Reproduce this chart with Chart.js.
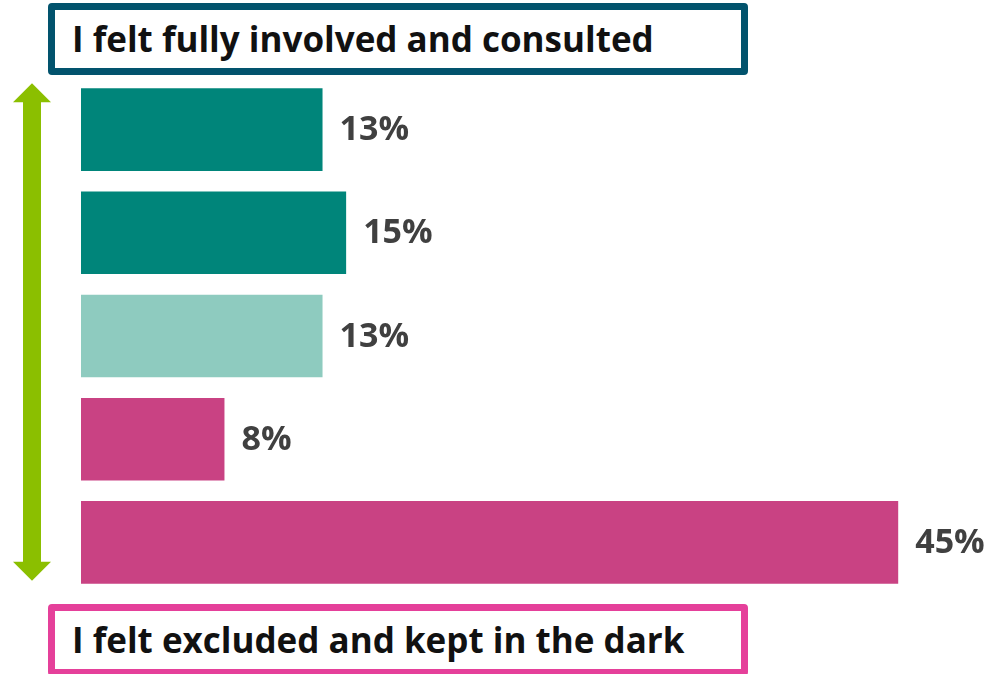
<!DOCTYPE html>
<html>
<head>
<meta charset="utf-8">
<script src="https://cdn.jsdelivr.net/npm/chart.js@4/dist/chart.umd.min.js"></script>
<style>
  html, body { margin: 0; padding: 0; background: #fff; overflow: hidden; }
  #wrap { position: relative; width: 989px; height: 674px; }
  .box {
    position: absolute; left: 48px; width: 669px; height: 58px;
    border: 7px solid; border-radius: 4px; background: #fff;
    font-family: "Open Sans", sans-serif; font-weight: 700; font-size: 35px;
    color: #111; line-height: 58px; padding-left: 17px; white-space: nowrap;
  }
  #top { top: 3px; border-color: #02536d; }
  #bottom { top: 604px; border-color: #e5409a; }
</style>
</head>
<body>
<div id="wrap">
  <canvas id="chart" width="989" height="674"></canvas>
  <div class="box" id="top">I felt fully involved and consulted</div>
  <div class="box" id="bottom">I felt excluded and kept in the dark</div>
</div>
<script>
const categories = ['Fully involved', 'Involved', 'Neutral', 'Excluded', 'Fully excluded']
const values = [13.3, 14.6, 13.3, 7.9, 45]
const valueLabels = ['13%', '15%', '13%', '8%', '45%']
const barColors = ['#00857a', '#00857a', '#8ecbbf', '#c94283', '#c94283']

// value text after each bar
const valueLabelPlugin = {
    id: 'valueLabels',
    afterDatasetsDraw(chart) {
        const ctx = chart.ctx
        const meta = chart.getDatasetMeta(0)
        ctx.save()
        ctx.font = '700 34px "Open Sans", sans-serif'
        ctx.fillStyle = '#404040'
        ctx.textBaseline = 'middle'
        meta.data.forEach((bar, i) => {
            ctx.fillText(valueLabels[i], bar.x + 17, bar.y + 1)
        })
        ctx.restore()
    }
}

// green double arrow along the left side
const arrowPlugin = {
    id: 'arrow',
    afterDraw(chart) {
        const ctx = chart.ctx
        const meta = chart.getDatasetMeta(0)
        const top = meta.data[0].y - meta.data[0].height / 2 - 5
        const last = meta.data[meta.data.length - 1]
        const bottom = last.y + last.height / 2 - 3
        const cx = 32
        ctx.save()
        ctx.fillStyle = '#8bbf00'
        ctx.fillRect(cx - 9, top + 17, 18, bottom - top - 34)
        ctx.beginPath()
        ctx.moveTo(cx, top)
        ctx.lineTo(cx + 19, top + 19)
        ctx.lineTo(cx - 19, top + 19)
        ctx.closePath()
        ctx.fill()
        ctx.beginPath()
        ctx.moveTo(cx, bottom)
        ctx.lineTo(cx + 19, bottom - 19)
        ctx.lineTo(cx - 19, bottom - 19)
        ctx.closePath()
        ctx.fill()
        ctx.restore()
    }
}

const ctx = document.getElementById('chart').getContext('2d')
const myChart = new Chart(ctx, {
    type: 'bar',
    data: {
        labels: categories,
        datasets: [{
            data: values,
            backgroundColor: barColors,
            borderWidth: 0,
            categoryPercentage: 1,
            barPercentage: 0.8
        }]
    },
    options: {
        indexAxis: 'y',
        responsive: false,
        animation: false,
        layout: { padding: { left: 81, right: 0, top: 78, bottom: 80 } },
        plugins: { legend: { display: false }, tooltip: { enabled: false } },
        scales: {
            x: { display: false, min: 0, max: 50 },
            y: { display: false }
        }
    },
    plugins: [valueLabelPlugin, arrowPlugin]
})
</script>
</body>
</html>
